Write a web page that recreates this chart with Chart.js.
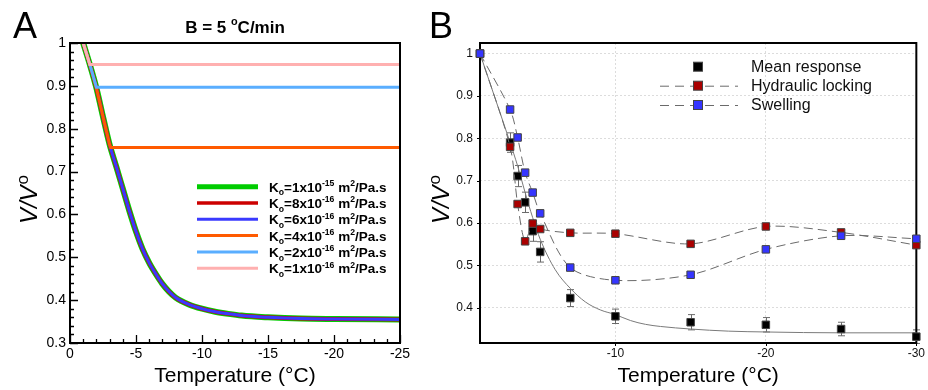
<!DOCTYPE html>
<html>
<head>
<meta charset="utf-8">
<script src="https://cdn.jsdelivr.net/npm/chart.js@4.4.1/dist/chart.umd.min.js"></script>
<style>
  body { margin: 0; background: #fff; }
  #wrap { position: relative; width: 928px; height: 390px; }
  #boxA { position: absolute; left: 0; top: 0; width: 420px; height: 390px; }
  #boxB { position: absolute; left: 420px; top: 0; width: 508px; height: 390px; }
</style>
</head>
<body>
<div id="wrap">
  <div id="boxA"><canvas id="chartA"></canvas></div>
  <div id="boxB"><canvas id="chartB"></canvas></div>
</div>
<script>
// ---- Panel A data (model curves, B = 5 C/min)
const tempA = [-1, -1.5, -2, -2.5, -3, -3.5, -4, -4.5, -5, -5.5, -6, -6.5, -7, -7.5, -8, -9, -10, -11, -12, -13, -15, -17.5, -20, -25];
const volA  = [1.000, 0.950, 0.895, 0.828, 0.763, 0.712, 0.660, 0.608, 0.560, 0.519, 0.487, 0.461, 0.438, 0.420, 0.406, 0.390, 0.380, 0.373, 0.368, 0.364, 0.360, 0.357, 0.356, 0.355];
const koMantissa = [1, 8, 6, 4, 2, 1];
const koExponent = [-15, -16, -16, -16, -16, -16];
const plateauT = [null, null, null, -3.08, -2.0, -1.5];   // where the curve locks
const plateauV = [null, null, null, 0.756, 0.897, 0.950];
const colorsA = ['#00cc00', '#cc0000', '#3a3aff', '#ff5a00', '#5aaeff', '#ffb0b0'];
const widthsA = [6, 4, 3, 3, 3, 3];
const yTicksA = [0.3, 0.4, 0.5, 0.6, 0.7, 0.8, 0.9, 1];
const xTicksA = [0, -5, -10, -15, -20, -25];

// ---- Panel B data (measurements)
const tempB  = [-1, -3, -3.5, -4, -4.5, -5, -7, -10, -15, -20, -25, -30];
const meanB  = [1.0, 0.790, 0.711, 0.649, 0.581, 0.532, 0.423, 0.380, 0.366, 0.360, 0.350, 0.332];
const errB   = [0, 0.023, 0.025, 0.024, 0.024, 0.024, 0.020, 0.017, 0.018, 0.017, 0.016, 0.016];
const lockB  = [1.0, 0.780, 0.645, 0.557, 0.599, 0.586, 0.577, 0.575, 0.551, 0.592, 0.578, 0.548];
const swellB = [1.0, 0.868, 0.802, 0.719, 0.672, 0.623, 0.495, 0.465, 0.478, 0.538, 0.570, 0.563];
const fitT = [-1, -2, -3, -3.5, -4, -4.5, -5, -6, -7, -8, -9, -10, -11, -12, -13, -15, -17.5, -20, -25, -30];
const fitV = [1.0, 0.895, 0.790, 0.735, 0.672, 0.613, 0.562, 0.490, 0.446, 0.414, 0.395, 0.384, 0.370, 0.361, 0.356, 0.350, 0.345, 0.343, 0.341, 0.341];
const seriesB = ['Mean response', 'Hydraulic locking', 'Swelling'];
const yTicksB = [0.4, 0.5, 0.6, 0.7, 0.8, 0.9, 1];
const xTicksB = [-10, -20, -30];

const FONT = '"Liberation Sans", Arial, Helvetica, sans-serif';

function pts(xs, ys) { return xs.map((x, i) => ({ x: x, y: ys[i] })); }

function richText(ctx, x, y, parts, size, weight) {
  let cx = x;
  for (const p of parts) {
    const s = p.s ? size * 0.64 : size;
    ctx.font = `${weight} ${s}px ${FONT}`;
    const dy = p.s === 'sup' ? -size * 0.42 : p.s === 'sub' ? size * 0.28 : 0;
    ctx.fillText(p.t, cx, y + dy);
    cx += ctx.measureText(p.t).width;
  }
}

function richWidth(ctx, parts, size, weight) {
  let w = 0;
  for (const p of parts) {
    ctx.font = `${weight} ${p.s ? size * 0.64 : size}px ${FONT}`;
    w += ctx.measureText(p.t).width;
  }
  return w;
}

// rotated "V/Vo" axis title, the small o sits high as in the original
function drawVTitle(ctx, cx, cy) {
  ctx.save();
  ctx.translate(cx, cy);
  ctx.rotate(-Math.PI / 2);
  ctx.fillStyle = '#000';
  ctx.textBaseline = 'alphabetic';
  ctx.font = `italic 24px ${FONT}`;
  const w1 = ctx.measureText('V/V').width;
  ctx.font = `17px ${FONT}`;
  const w2 = ctx.measureText('o').width;
  const start = -(w1 + w2) / 2;
  ctx.font = `italic 24px ${FONT}`;
  ctx.fillText('V/V', start, 8.5);
  ctx.font = `17px ${FONT}`;
  ctx.fillText('o', start + w1 + 1, 0);
  ctx.restore();
}

function keepTicks(list) {
  return (scale) => { scale.ticks = list.map(v => ({ value: v })); };
}

const fmt = v => String(+v.toFixed(2));

// ---- Panel A datasets
const datasetsA = koMantissa.map((m, i) => {
  let data;
  if (plateauT[i] === null) {
    data = pts(tempA, volA);
  } else {
    data = [];
    tempA.forEach((t, k) => { if (t > plateauT[i] + 1e-9) data.push({ x: t, y: volA[k] }); });
    data.push({ x: plateauT[i], y: plateauV[i] });
    data.push({ x: -25, y: plateauV[i] });
  }
  const ds = {
    label: 'K' + m + 'x10' + koExponent[i],
    data: data,
    showLine: true,
    borderColor: colorsA[i],
    backgroundColor: colorsA[i],
    borderWidth: widthsA[i],
    pointRadius: 0,
    tension: 0,
    order: 6 - i,
    clip: false
  };
  if (plateauT[i] === null) ds.cubicInterpolationMode = 'monotone';
  return ds;
});

const decorA = {
  id: 'decorA',
  afterDatasetsDraw(chart) {
    const { ctx, chartArea: a, scales: { x, y } } = chart;
    ctx.save();
    ctx.strokeStyle = '#000';
    ctx.lineWidth = 2;
    ctx.strokeRect(a.left, a.top, a.right - a.left, a.bottom - a.top);
    ctx.lineWidth = 1.3;
    ctx.beginPath();
    for (let i = 0; i <= 25; i++) {
      const px = Math.round(x.getPixelForValue(-i)) + 0.5;
      const len = i % 5 === 0 ? 8 : 4;
      ctx.moveTo(px, a.bottom); ctx.lineTo(px, a.bottom - len);
    }
    for (let i = 0; i <= 35; i++) {
      const py = Math.round(y.getPixelForValue(0.3 + i * 0.02)) + 0.5;
      const len = i % 5 === 0 ? 8 : 4;
      ctx.moveTo(a.left, py); ctx.lineTo(a.left + len, py);
    }
    ctx.stroke();

    ctx.fillStyle = '#000';
    ctx.textBaseline = 'alphabetic';
    // panel letter
    ctx.font = `36px ${FONT}`;
    ctx.fillText('A', 13, 38);
    // title
    const tParts = [{ t: 'B = 5 ' }, { t: 'o', s: 'sup' }, { t: 'C/min' }];
    const tw = richWidth(ctx, tParts, 17, 'bold');
    richText(ctx, (a.left + a.right) / 2 - tw / 2, 32.5, tParts, 17, 'bold');
    // y title
    drawVTitle(ctx, 28, 200);
    // legend
    chart.data.datasets.forEach((ds, i) => {
      const cy = 186.7 + i * 16.3;
      ctx.strokeStyle = ds.borderColor;
      ctx.lineWidth = i === 0 ? 5 : (i === 1 ? 3.7 : 3);
      ctx.beginPath();
      ctx.moveTo(197, cy); ctx.lineTo(258, cy);
      ctx.stroke();
      ctx.fillStyle = '#000';
      const parts = [{ t: 'K' }, { t: 'o', s: 'sub' }, { t: '=' + koMantissa[i] + 'x10' }, { t: String(koExponent[i]), s: 'sup' }, { t: ' m' }, { t: '2', s: 'sup' }, { t: '/Pa.s' }];
      richText(ctx, 269, cy + 5, parts, 13.5, 'bold');
    });
    ctx.restore();
  }
};

new Chart('chartA', {
  type: 'scatter',
  data: { datasets: datasetsA },
  options: {
    responsive: true,
    maintainAspectRatio: false,
    animation: false,
    events: [],
    layout: { padding: { left: 0, right: 20, top: 43, bottom: 0 } },
    plugins: { legend: { display: false }, tooltip: { enabled: false } },
    scales: {
      x: {
        type: 'linear', min: -25, max: 0, reverse: true,
        afterBuildTicks: keepTicks(xTicksA),
        afterFit: s => { s.height = 47; },
        grid: { display: false, drawTicks: false }, border: { display: false },
        ticks: { color: '#000', padding: 3, font: { family: FONT, size: 14 }, callback: fmt, maxRotation: 0 },
        title: { display: true, text: 'Temperature (°C)', color: '#000', font: { family: FONT, size: 21 }, padding: { top: 0, bottom: 1 } }
      },
      y: {
        type: 'linear', min: 0.3, max: 1,
        afterBuildTicks: keepTicks(yTicksA),
        afterFit: s => { s.width = 70; },
        grid: { display: false, drawTicks: false }, border: { display: false },
        ticks: { color: '#000', padding: 4, font: { family: FONT, size: 14 }, callback: fmt }
      }
    }
  },
  plugins: [decorA]
});

// ---- Panel B
const squareStyle = (fill) => ({
  pointStyle: 'rect', pointRadius: 5.3, pointBackgroundColor: fill,
  pointBorderColor: '#444', pointBorderWidth: 1
});

const datasetsB = [
  Object.assign({ label: seriesB[0], data: pts(tempB, meanB), showLine: false, order: 3, clip: false }, squareStyle('#000')),
  Object.assign({ label: seriesB[1], data: pts(tempB, lockB), showLine: true, borderColor: '#6a6a6a', borderWidth: 1, borderDash: [9, 5], tension: 0.3, order: 2, clip: false }, squareStyle('#aa0000')),
  Object.assign({ label: seriesB[2], data: pts(tempB, swellB), showLine: true, borderColor: '#6a6a6a', borderWidth: 1, borderDash: [9, 5], tension: 0.3, order: 1, clip: false }, squareStyle('#3535ff')),
  { label: 'fit', data: pts(fitT, fitV), showLine: true, borderColor: '#7a7a7a', borderWidth: 1, pointRadius: 0, cubicInterpolationMode: 'monotone', order: 4, clip: false }
];

const decorB = {
  id: 'decorB',
  beforeDatasetsDraw(chart) {
    const { ctx, chartArea: a, scales: { x, y } } = chart;
    ctx.save();
    // error bars of the mean response
    ctx.strokeStyle = '#6a6a6a';
    ctx.lineWidth = 1;
    ctx.beginPath();
    tempB.forEach((t, i) => {
      if (!errB[i]) return;
      const px = Math.round(x.getPixelForValue(t)) + 0.5;
      const y1 = y.getPixelForValue(meanB[i] + errB[i]);
      const y2 = y.getPixelForValue(meanB[i] - errB[i]);
      ctx.moveTo(px, y1); ctx.lineTo(px, y2);
      ctx.moveTo(px - 3.5, y1); ctx.lineTo(px + 3.5, y1);
      ctx.moveTo(px - 3.5, y2); ctx.lineTo(px + 3.5, y2);
    });
    ctx.stroke();
    // frame and ticks
    ctx.strokeStyle = '#000';
    ctx.lineWidth = 2;
    ctx.strokeRect(a.left, a.top, a.right - a.left, a.bottom - a.top);
    ctx.lineWidth = 1;
    ctx.beginPath();
    yTicksB.forEach(v => {
      const py = Math.round(y.getPixelForValue(v)) + 0.5;
      ctx.moveTo(a.left - 3, py); ctx.lineTo(a.left, py);
    });
    xTicksB.forEach(v => {
      const px = Math.round(x.getPixelForValue(v)) + 0.5;
      ctx.moveTo(px, a.bottom); ctx.lineTo(px, a.bottom + 3);
    });
    ctx.stroke();
    ctx.restore();
  },
  afterDraw(chart) {
    const { ctx } = chart;
    ctx.save();
    ctx.fillStyle = '#000';
    ctx.textBaseline = 'alphabetic';
    ctx.font = `36px ${FONT}`;
    ctx.fillText('B', 9, 38);
    drawVTitle(ctx, 20, 200);
    // legend
    const rows = [66.7, 85.7, 105];
    const fills = ['#000', '#aa0000', '#3535ff'];
    rows.forEach((cy, i) => {
      if (i > 0) {
        ctx.strokeStyle = '#6a6a6a';
        ctx.lineWidth = 1;
        ctx.setLineDash([9, 6]);
        ctx.beginPath();
        ctx.moveTo(240, cy + 0.5); ctx.lineTo(318, cy + 0.5);
        ctx.stroke();
        ctx.setLineDash([]);
      }
      ctx.fillStyle = fills[i];
      ctx.fillRect(273.5, cy - 4.5, 9, 9);
      ctx.strokeStyle = '#444';
      ctx.lineWidth = 1;
      ctx.strokeRect(273.5, cy - 4.5, 9, 9);
      ctx.fillStyle = '#111';
      ctx.font = `16px ${FONT}`;
      ctx.textBaseline = 'middle';
      ctx.fillText(seriesB[i], 331, cy + 1);
    });
    ctx.restore();
  }
};

new Chart('chartB', {
  type: 'scatter',
  data: { datasets: datasetsB },
  options: {
    responsive: true,
    maintainAspectRatio: false,
    animation: false,
    events: [],
    layout: { padding: { left: 0, right: 9, top: 43, bottom: 0 } },
    plugins: { legend: { display: false }, tooltip: { enabled: false } },
    scales: {
      x: {
        type: 'linear', min: -30, max: -1, reverse: true,
        afterBuildTicks: keepTicks(xTicksB),
        afterFit: s => { s.height = 47; },
        grid: { color: '#dcdcdc', lineWidth: 1, drawTicks: false },
        border: { display: false, dash: [2, 2] },
        ticks: { color: '#111', padding: 3, font: { family: FONT, size: 12 }, callback: fmt, maxRotation: 0 },
        title: { display: true, text: 'Temperature (°C)', color: '#000', font: { family: FONT, size: 21 }, padding: { top: 0, bottom: 1 } }
      },
      y: {
        type: 'linear', min: 0.317, max: 1.025,
        afterBuildTicks: keepTicks(yTicksB),
        afterFit: s => { s.width = 60; },
        grid: { color: '#dcdcdc', lineWidth: 1, drawTicks: false },
        border: { display: false, dash: [2, 2] },
        ticks: { color: '#111', padding: 7, font: { family: FONT, size: 12 }, callback: fmt }
      }
    }
  },
  plugins: [decorB]
});
</script>
</body>
</html>
